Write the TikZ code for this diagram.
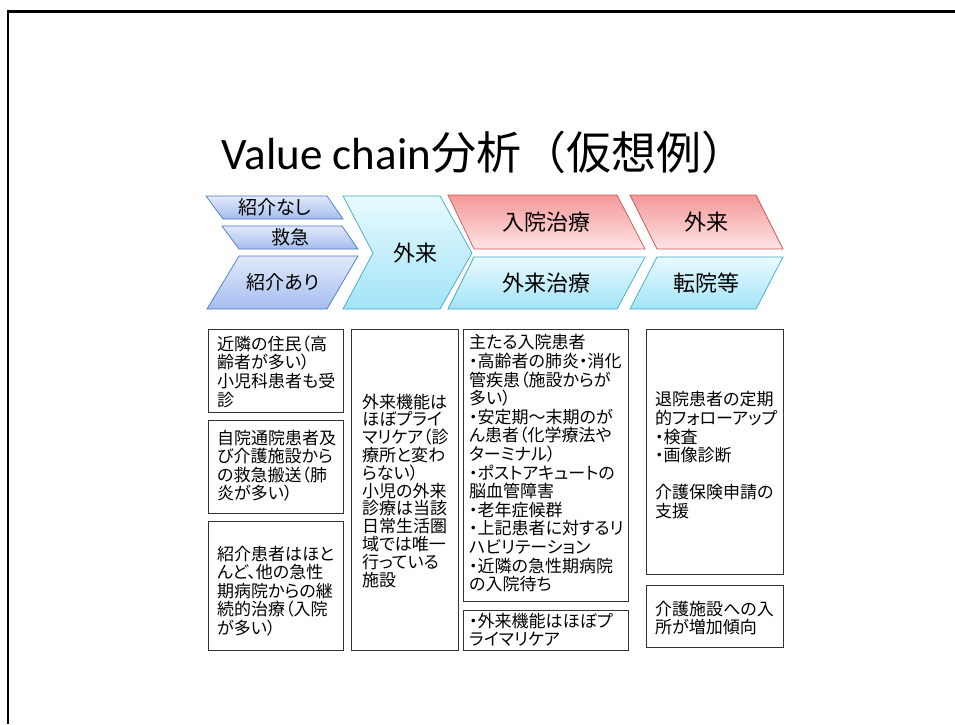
\documentclass[tikz,border=0pt]{standalone}
\usepackage{fontspec}
\setmainfont{Carlito}
\newfontfamily\jp[RawFeature=+palt]{Noto Sans CJK JP}
\newfontfamily\jpt{Noto Sans CJK JP}
\definecolor{blueTop}{HTML}{E2EAFB}
\definecolor{blueBot}{HTML}{A4BDEF}
\definecolor{blueLine}{HTML}{4A76C8}
\definecolor{cyanTop}{HTML}{E8FAFE}
\definecolor{cyanBot}{HTML}{A2E4F7}
\definecolor{cyanLine}{HTML}{3FA8C8}
\definecolor{redTop}{HTML}{F59898}
\definecolor{redBot}{HTML}{FDE4E4}
\definecolor{redLine}{HTML}{C65A57}
\begin{document}
\begin{tikzpicture}[x=1pt,y=-1pt,
  bluesh/.style={draw=blueLine, line width=0.7pt, top color=blueTop, bottom color=blueBot},
  cyansh/.style={draw=cyanLine, line width=0.7pt, top color=cyanTop, bottom color=cyanBot},
  redsh/.style={draw=redLine, line width=0.7pt, top color=redTop, bottom color=redBot},
  box/.style={draw=black!80, line width=0.8pt, inner sep=0pt, anchor=north west},
  txt/.style={font=\jp\fontsize{17}{18.6}\selectfont, align=left, inner sep=0pt, anchor=north west},
  txtb/.style={font=\jp\fontsize{17}{17.8}\selectfont, align=left, inner sep=0pt, anchor=north west},
  lab/.style={font=\jp\fontsize{22}{24}\selectfont, inner sep=0pt},
  slab/.style={font=\jp\fontsize{19}{21}\selectfont, inner sep=0pt}]
\useasboundingbox (0,0) rectangle (955,724);
% slide frame
\draw[line width=2.6pt] (8,724) -- (8,11.5) -- (955,11.5);
% title
\node[inner sep=0pt] (title) at (484,152) {\fontsize{45}{49}\selectfont Value chain{\jpt 分析（仮想例）}};
% chevrons
\path[bluesh] (206,196) -- (327,196) -- (343,219) -- (223,219) -- cycle;
\node[slab] (s1) at (275,207.5) {紹介なし};
\path[bluesh] (222,226) -- (342,226) -- (358,249) -- (239,249) -- cycle;
\node[slab] (s2) at (290,237.5) {救急};
\path[bluesh] (239,256) -- (358,256) -- (327,309) -- (207,309) -- cycle;
\node[slab] (s3) at (283,282.5) {紹介あり};
\path[cyansh] (343,196) -- (440,196) -- (472,253) -- (440,309) -- (343,309) -- (373,253) -- cycle;
\node[lab] (g1) at (415,253) {外来};
\path[redsh] (448,195) -- (617,195) -- (645,249) -- (474,249) -- cycle;
\node[lab] (r1) at (546,222) {入院治療};
\path[cyansh] (474,257) -- (645,257) -- (617,309) -- (448,309) -- cycle;
\node[lab] (g2) at (546,283) {外来治療};
\path[redsh] (630,195) -- (756,195) -- (783,249) -- (657,249) -- cycle;
\node[lab] (r2) at (706,222) {外来};
\path[cyansh] (657,257) -- (783,257) -- (756,309) -- (630,309) -- cycle;
\node[lab] (g3) at (706,283) {転院等};
% text boxes
\node[box, minimum width=135pt, minimum height=83pt] (b1) at (208,329) {};
\node[txt] (t1) at (217,335.5) {近隣の住民（高\\齢者が多い）\\小児科患者も受\\診};
\node[box, minimum width=135pt, minimum height=93pt] (b2) at (208,420) {};
\node[txt] (t2) at (217,429.5) {自院通院患者及\\び介護施設から\\の救急搬送（肺\\炎が多い）};
\node[box, minimum width=135pt, minimum height=129pt] (b3) at (208,521) {};
\node[txt] (t3) at (217,545.5) {紹介患者はほと\\んど、他の急性\\期病院からの継\\続的治療（入院\\が多い）};
\node[box, minimum width=107pt, minimum height=321pt] (b4) at (351,329) {};
\node[txtb] (t4) at (362,393.5) {外来機能は\\ほぼプライ\\マリケア（診\\療所と変わ\\らない）\\小児の外来\\診療は当該\\日常生活圏\\域では唯一\\行っている\\施設};
\node[box, minimum width=165pt, minimum height=272pt] (b5) at (463,329) {};
\node[txt] (t5) at (469,334.5) {主たる入院患者\\・高齢者の肺炎・消化\\管疾患（施設からが\\多い）\\・安定期～末期のが\\ん患者（化学療法や\\ターミナル）\\・ポストアキュートの\\脳血管障害\\・老年症候群\\・上記患者に対するリ\\ハビリテーション\\・近隣の急性期病院\\の入院待ち};
\node[box, minimum width=165pt, minimum height=40pt] (b6) at (463,610) {};
\node[txt] (t6) at (469,612.5) {・外来機能はほぼプ\\ライマリケア};
\node[box, minimum width=137pt, minimum height=245pt] (b7) at (646,329) {};
\node[txt] (t7) at (655,391.5) {退院患者の定期\\的フォローアップ\\・検査\\・画像診断\\[18.6pt]介護保険申請の\\支援};
\node[box, minimum width=137pt, minimum height=62pt] (b8) at (646,585) {};
\node[txt] (t8) at (655,600.5) {介護施設への入\\所が増加傾向};
\end{tikzpicture}
\end{document}
